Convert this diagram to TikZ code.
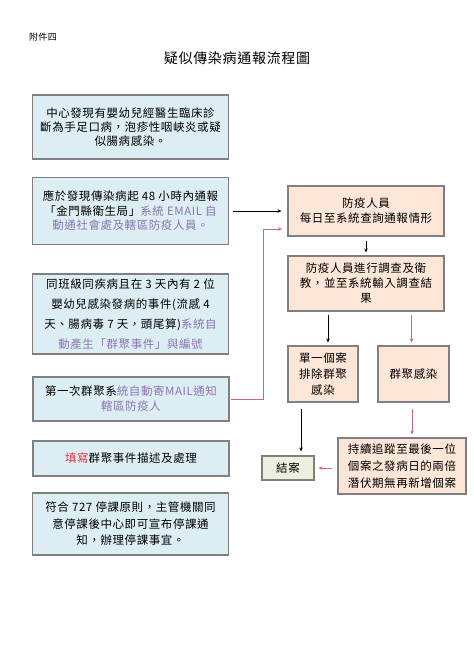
\documentclass[tikz,border=0pt]{standalone}
\usepackage{fontspec}
\setmainfont[LetterSpace=5]{Noto Sans CJK TC}
\usetikzlibrary{arrows.meta}
\definecolor{bluebox}{HTML}{DCEEF4}
\definecolor{peachbox}{HTML}{FCE6D8}
\definecolor{greenbox}{HTML}{EBF1DE}
\definecolor{boxline}{HTML}{808080}
\definecolor{auto}{HTML}{8A78AE}
\definecolor{fillin}{HTML}{E0383E}
\definecolor{pinkline}{HTML}{C8687A}
\begin{document}
\begin{tikzpicture}[x=1pt, y=-1pt,
  box/.style={draw=boxline, line width=1.1pt, align=center, inner sep=2pt,
    font=\fontsize{11.5}{15}\selectfont},
  left/.style={box, fill=bluebox, minimum width=196pt},
  right/.style={box, fill=peachbox},
  blackarrow/.style={-{Stealth[length=4pt,width=3.5pt]}, line width=0.7pt},
  pinkarrow/.style={-{Stealth[length=4pt,width=3.5pt]}, line width=0.7pt, draw=pinkline}]
  \useasboundingbox (0,0) rectangle (474,670);
  \node[font=\fontsize{9}{11}\selectfont] (annex) at (43,37) {附件四};
  \node[font=\fontsize{14}{16}\selectfont] (title) at (237,58) {疑似傳染病通報流程圖};
  \node[left, minimum height=64pt, font=\fontsize{11.5}{14}\selectfont] (find) at (130.5,127) {中心發現有嬰幼兒經醫生臨床診\\斷為手足口病，泡疹性咽峽炎或疑\\似腸病感染。};
  \node[left, minimum height=67pt, font=\fontsize{11.5}{14.5}\selectfont] (report) at (130.5,211) {應於發現傳染病起 48 小時內通報\\「金門縣衛生局」\textcolor{auto}{系統 EMAIL 自}\\\textcolor{auto}{動通社會處及轄區防疫人員。}};
  \node[left, minimum height=80pt, font=\fontsize{11.5}{20}\selectfont] (cluster) at (130.5,314) {同班級同疾病且在 3 天內有 2 位\\嬰幼兒感染發病的事件(流感 4\\天、腸病毒 7 天，頭尾算)\textcolor{auto}{系統自}\\\textcolor{auto}{動產生「群聚事件」與編號}};
  \node[left, minimum height=44pt] (first) at (131,399) {第一次群聚系\textcolor{auto}{統自動寄MAIL通知}\\\textcolor{auto}{轄區防疫人}};
  \node[left, minimum height=35pt] (fill) at (131,458.5) {\textcolor{fillin}{填寫}群聚事件描述及處理};
  \node[left, minimum height=62pt, font=\fontsize{11.5}{16.5}\selectfont] (close) at (130.5,524) {符合 727 停課原則，主管機關同\\意停課後中心即可宣布停課通\\知，辦理停課事宜。};
  \node[right, minimum width=156pt, minimum height=50pt] (daily) at (366,211) {防疫人員\\每日至系統查詢通報情形};
  \node[right, minimum width=156pt, minimum height=55pt] (survey) at (366,283.5) {防疫人員進行調查及衛\\教，並至系統輸入調查結\\果};
  \node[right, minimum width=70pt, minimum height=56pt, font=\fontsize{11.5}{16}\selectfont] (single) at (323,374) {單一個案\\排除群聚\\感染};
  \node[right, minimum width=71pt, minimum height=56pt] (group) at (413.5,374) {群聚感染};
  \node[right, minimum width=128pt, minimum height=56pt, font=\fontsize{11.5}{17}\selectfont] (track) at (402,466) {持續追蹤至最後一位\\個案之發病日的兩倍\\潛伏期無再新增個案};
  \node[box, fill=greenbox, minimum width=52pt, minimum height=24pt] (done) at (288,468) {結案};
  \coordinate (turn) at (263,229);
  \coordinate (back) at (282,229);
  \draw[blackarrow, shorten <=4pt, shorten >=6pt] (report) -- (daily);
  \draw[pinkarrow, shorten <=1pt] (first.east) -| (turn) -- (back);
  \draw[blackarrow, shorten <=4pt, shorten >=3pt] (daily) -- (survey);
  \draw[blackarrow, shorten <=3pt, shorten >=3pt] ([xshift=5pt]single.north |- survey.south) -- ([xshift=5pt]single.north);
  \draw[pinkarrow, shorten <=3pt, shorten >=3pt] ([xshift=-2pt]group.north |- survey.south) -- ([xshift=-2pt]group.north);
  \draw[blackarrow, shorten <=6pt, shorten >=4pt] ([xshift=13pt]done.north |- single.south) -- ([xshift=13pt]done.north);
  \draw[pinkarrow, shorten <=6pt, shorten >=3pt] ([xshift=10pt]track.north |- group.south) -- ([xshift=10pt]track.north);
  \draw[pinkarrow, shorten <=5pt, shorten >=4pt] (track.west |- done.east) -- (done.east);
\end{tikzpicture}
\end{document}
